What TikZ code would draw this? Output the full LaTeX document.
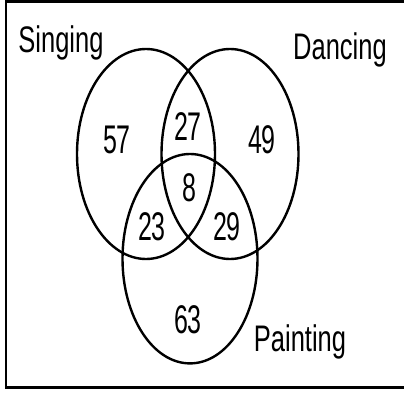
\documentclass[tikz,border=0pt]{standalone}
\usepackage{fontspec}
\setmainfont{Liberation Sans}
\begin{document}
\begin{tikzpicture}[x=1pt,y=1pt,
  setline/.style={line width=2.4pt,black},
  framebox/.style={line width=2.8pt,black},
  lbl/.style={inner sep=0pt,font=\fontsize{25.5}{30}\selectfont,yscale=1.45,transform shape},
  num/.style={inner sep=0pt,font=\fontsize{25}{30}\selectfont,yscale=1.6,transform shape}]
\useasboundingbox (0,0) rectangle (404,394);
\begin{scope}
\clip (0,0) rectangle (404,394);
\draw[framebox] (6,6.5) rectangle (420,392.5);
\end{scope}
\draw[setline] (146,240) ellipse [x radius=69, y radius=105];
\draw[setline] (230,240) ellipse [x radius=68.5, y radius=105];
\draw[setline] (190,135.3) ellipse [x radius=67.5, y radius=104.7];
\node[lbl] (s) at (61,351) {Singing};
\node[lbl] (d) at (340,344) {Dancing};
\node[lbl] (p) at (300,52) {Painting};
\node[num] (n57) at (117,254) {57};
\node[num] (n27) at (188,267) {27};
\node[num] (n49) at (262,254) {49};
\node[num] (n8) at (189,206) {8};
\node[num] (n23) at (152,167) {23};
\node[num] (n29) at (227,167) {29};
\node[num] (n63) at (188,74) {63};
\end{tikzpicture}
\end{document}
